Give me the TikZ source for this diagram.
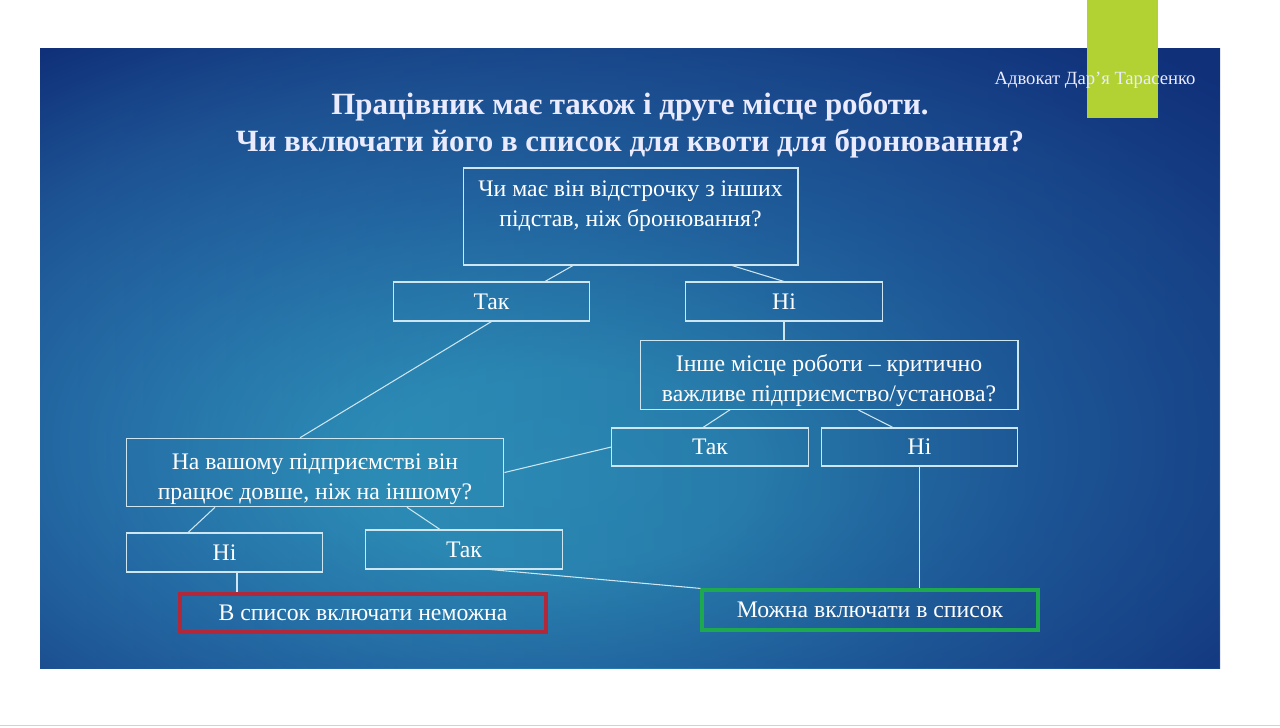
\documentclass[tikz,border=0pt]{standalone}
\usepackage{fontspec}
\setmainfont{Liberation Serif}
\usepackage{tikz}
\usetikzlibrary{positioning,calc,fadings}
\definecolor{slidein}{RGB}{50,160,194}
\definecolor{slidemid}{RGB}{38,112,168}
\definecolor{slideedge}{RGB}{30,84,148}
\definecolor{slideout}{RGB}{16,48,122}
\definecolor{boxline}{RGB}{205,230,240}
\definecolor{lime}{RGB}{178,210,52}
\definecolor{nored}{RGB}{176,40,58}
\definecolor{yesgreen}{RGB}{30,168,80}
\pgfdeclareradialshading{slide}{\pgfpoint{-3bp}{-10bp}}{%
  color(0bp)=(slidein); color(8bp)=(slidein!90!slidemid);
  color(20bp)=(slidemid); color(29bp)=(slideedge); color(38bp)=(slideout); color(72bp)=(slideout)}
\tikzfading[name=fade to right,left color=transparent!100,right color=transparent!0]

\begin{document}
\begin{tikzpicture}[x=0.02cm,y=-0.02cm,
    txt/.style={text=white,font=\fontsize{13.5}{17}\selectfont,align=center},
    answer/.style={draw=boxline,line width=0.6pt,txt,minimum width=3.93cm,minimum height=0.78cm,inner sep=0pt},
    question/.style={draw=boxline,line width=0.6pt,minimum width=7.56cm,minimum height=1.37cm,inner sep=0pt},
    qtext/.style={txt,anchor=north,yshift=-0.17cm},
    result/.style={line width=1.8pt,txt,minimum height=0.78cm,inner sep=0pt},
    link/.style={draw=boxline,line width=0.6pt}]
      \useasboundingbox (0,0) rectangle (1280,727);
      \fill[white] (0,0) rectangle (1280,727);
      \shade[shading=slide] (40,48) rectangle (1220,668);
      \fill[slideout,path fading=fade to right,fill opacity=0.5] (40,48) rectangle (1220,668);
      \draw[gray!35,line width=0.8pt] (0,725.5) -- (1280,725.5);
      \fill[lime] (1087,0) rectangle (1158,118);

      \coordinate (t) at (630,125.5);
      \coordinate (q1c) at (630.5,216.5);
      \coordinate (tak1c) at (491.5,301.5);
      \coordinate (ni1c) at (784,301.5);
      \coordinate (q2c) at (829,375);
      \coordinate (tak2c) at (710,447);
      \coordinate (ni2c) at (919.5,447);
      \coordinate (q3c) at (315,472.5);
      \coordinate (ni3c) at (224.5,552.5);
      \coordinate (tak3c) at (464,549.5);
      \coordinate (noc) at (363,613);
      \coordinate (yesc) at (870,610);

      \node[text=white!92!blue,font=\fontsize{10.6}{13}\selectfont] (author) at (1095,80) {Адвокат Дар’я Тарасенко};
      \node[text=white!92!blue,font=\fontsize{17.6}{21}\selectfont\bfseries,align=center] (title) at (t)
        {Працівник має також і друге місце роботи.\\Чи включати його в список для квоти для бронювання?};

      \node[question,minimum width=6.7cm,minimum height=1.94cm,
        label={[qtext,yshift=0.02cm]north:{Чи має він відстрочку з інших\\підстав, ніж бронювання?}}] (q1) at (q1c) {};
      \node[answer] (tak1) at (tak1c) {Так};
      \node[answer] (ni1) at (ni1c) {Ні};
      \node[question,
        label={[qtext]north:{Інше місце роботи – критично\\важливе підприємство/установа?}}] (q2) at (q2c) {};
      \node[answer,minimum height=0.76cm] (tak2) at (tak2c) {Так};
      \node[answer,minimum height=0.76cm] (ni2) at (ni2c) {Ні};
      \node[question,
        label={[qtext,yshift=-0.02cm]north:{На вашому підприємстві він\\працює довше, ніж на іншому?}}] (q3) at (q3c) {};
      \node[answer] (ni3) at (ni3c) {Ні};
      \node[answer] (tak3) at (tak3c) {Так};
      \node[result,draw=nored,minimum width=7.32cm,minimum height=0.76cm] (no) at (noc) {В список включати неможна};
      \node[result,draw=yesgreen,minimum width=6.72cm,minimum height=0.8cm] (yes) at (yesc) {Можна включати в список};

      \draw[link] ([xshift=-1.15cm]q1.south) -- ([xshift=1.07cm]tak1.north);
      \draw[link] ([xshift=2.03cm]q1.south) -- (ni1.north);
      \draw[link] (tak1.south) -- ([xshift=-0.3cm]q3.north);
      \draw[link] (ni1.south) -- (ni1.south |- q2.north);
      \draw[link] ([xshift=-1.98cm]q2.south) -- ([xshift=-0.14cm]tak2.north);
      \draw[link] ([xshift=0.58cm]q2.south) -- ([xshift=-0.53cm]ni2.north);
      \draw[link] (tak2.west) -- (q3.east);
      \draw[link] ([xshift=-2cm]q3.south) -- ([xshift=-0.73cm]ni3.north);
      \draw[link] ([xshift=1.84cm]q3.south) -- ([xshift=-0.48cm]tak3.north);
      \draw[link] ([xshift=0.25cm]ni3.south) -- ([xshift=0.25cm]ni3.south |- no.north);
      \draw[link] ([xshift=0.52cm]tak3.south) -- (yes.north west);
      \draw[link] (ni2.south) -- (ni2.south |- yes.north);
\end{tikzpicture}
\end{document}
